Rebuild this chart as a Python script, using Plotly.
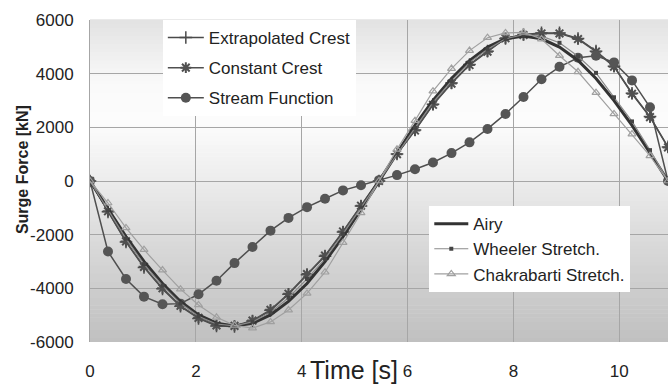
import plotly.graph_objects as go

# ---------------- data ----------------
time_s = [0.00, 0.34, 0.68, 1.02, 1.37, 1.71, 2.05, 2.39, 2.73, 3.07, 3.41,
          3.75, 4.10, 4.44, 4.78, 5.12, 5.46, 5.80, 6.14, 6.48, 6.83, 7.17,
          7.51, 7.85, 8.19, 8.53, 8.87, 9.22, 9.56, 9.90, 10.24, 10.58, 10.92]

airy = [0, -1050, -2070, -3000, -3820, -4490, -4990, -5300, -5400, -5300, -4990,
        -4490, -3820, -3000, -2070, -1050, 0, 1050, 2070, 3000, 3820, 4490,
        4990, 5300, 5400, 5300, 4990, 4490, 3820, 3000, 2070, 1050, 0]

wheeler = [0, -1090, -2150, -3100, -3900, -4560, -5040, -5330, -5400, -5250, -4900,
           -4350, -3650, -2900, -1970, -990, 0, 1030, 1980, 2930, 3730, 4420,
           4910, 5300, 5450, 5400, 5150, 4650, 4030, 3120, 2220, 1150, 0]

chakrabarti = [0, -820, -1750, -2560, -3320, -4030, -4620, -5080, -5380, -5480, -5250,
               -4810, -4190, -3400, -2300, -1190, 0, 1180, 2250, 3350, 4190, 4860,
               5340, 5520, 5540, 5290, 4670, 4070, 3290, 2500, 1750, 940, 0]

extrapolated = [0, -1150, -2270, -3220, -4020, -4670, -5120, -5400, -5420, -5220, -4820,
                -4220, -3490, -2800, -1900, -930, 0, 1010, 1900, 2860, 3650, 4340,
                4840, 5310, 5460, 5520, 5520, 5310, 4840, 4280, 3270, 2400, 1270, 0][:33]

constant = [0, -1130, -2250, -3200, -4000, -4650, -5100, -5380, -5400, -5200, -4800,
            -4200, -3470, -2780, -1880, -920, 0, 1000, 1880, 2840, 3630, 4320,
            4820, 5320, 5440, 5500, 5500, 5290, 4820, 4260, 3250, 2380, 1250, 0][:33]

stream = [0, -2630, -3650, -4310, -4590, -4570, -4220, -3715, -3060, -2460, -1850,
          -1375, -975, -660, -350, -160, 25, 220, 440, 690, 1040, 1440,
          1940, 2500, 3130, 3790, 4255, 4590, 4670, 4420, 3750, 2750, 0]

y_ticks = [-6000, -4000, -2000, 0, 2000, 4000, 6000]
x_ticks = [0, 2, 4, 6, 8, 10]

FONT = "Liberation Sans, Arial, sans-serif"
TXT = "#222222"

fig = go.Figure()

# background gradient (plot area)
stops = [(0.0, 192), (0.25, 212), (0.5, 236), (0.68, 252), (0.8, 250), (1.0, 226)]
N = 80
def shade(f):
    for (a, ca), (b, cb) in zip(stops[:-1], stops[1:]):
        if a <= f <= b:
            return ca + (cb - ca) * (f - a) / (b - a)
    return stops[-1][1]
for k in range(N):
    y0 = k / N
    y1 = (k + 1) / N
    c = int(round(shade((y0 + y1) / 2)))
    fig.add_shape(type="rect", xref="paper", yref="paper", x0=0, x1=1,
                  y0=y0, y1=y1 + 0.002, fillcolor=f"rgb({c},{c},{c})",
                  line=dict(width=0), layer="below")

# top legend traces
fig.add_trace(go.Scatter(x=time_s, y=extrapolated, name="Extrapolated Crest",
                         mode="lines+markers", legend="legend", legendgroup="e",
                         line=dict(color="#4a4a4a", width=1.5),
                         marker=dict(symbol="cross-thin", size=9,
                                     line=dict(color="#4a4a4a", width=1.5))))
fig.add_trace(go.Scatter(x=time_s, y=constant, name="Constant Crest",
                         mode="lines+markers", legend="legend", legendgroup="c",
                         line=dict(color="#505050", width=1.5),
                         marker=dict(symbol="asterisk", size=9,
                                     line=dict(color="#505050", width=2))))
fig.add_trace(go.Scatter(x=time_s, y=stream, name="Stream Function",
                         mode="lines+markers", legend="legend", legendgroup="s",
                         line=dict(color="#4f4f4f", width=1.5),
                         marker=dict(symbol="circle", size=10, color="#555555")))

# bottom legend traces
fig.add_trace(go.Scatter(x=time_s, y=airy, name="Airy", mode="lines",
                         legend="legend2",
                         line=dict(color="#333333", width=3)))
fig.add_trace(go.Scatter(x=time_s, y=wheeler, name="Wheeler Stretch.",
                         mode="lines+markers", legend="legend2",
                         line=dict(color="#8a8a8a", width=1.2),
                         marker=dict(symbol="square", size=4, color="#444444")))
fig.add_trace(go.Scatter(x=time_s, y=chakrabarti, name="Chakrabarti Stretch.",
                         mode="lines+markers", legend="legend2",
                         line=dict(color="#a0a0a0", width=1.2),
                         marker=dict(symbol="triangle-up-open", size=7,
                                     line=dict(color="#8f8f8f", width=1.2))))

fig.update_layout(
    width=668, height=387,
    margin=dict(l=90, r=0, t=20, b=45),
    paper_bgcolor="white", plot_bgcolor="white",
    font=dict(family=FONT, size=17, color=TXT),
    legend=dict(x=0.126, y=1.0, xanchor="left", yanchor="top",
                bgcolor="white", borderwidth=0, itemwidth=36,
                tracegroupgap=5, font=dict(size=17, color=TXT)),
    legend2=dict(x=0.587, y=0.422, xanchor="left", yanchor="top",
                 bgcolor="white", borderwidth=0, itemwidth=34,
                 font=dict(size=17, color=TXT)),
    xaxis=dict(range=[0, 10.92], tickvals=x_ticks, ticktext=[str(v) for v in x_ticks],
               showgrid=True, gridcolor="#a6a6a6", gridwidth=1,
               showline=False, zeroline=False, ticks="",
               ticklabelstandoff=17, tickfont=dict(size=17, color=TXT)),
    yaxis=dict(range=[-6000, 6000], tickvals=y_ticks, ticktext=[str(v) for v in y_ticks],
               showgrid=True, gridcolor="#a6a6a6", gridwidth=1,
               showline=True, linecolor="#a6a6a6", linewidth=1,
               zeroline=False, ticks="",
               ticklabelstandoff=12, tickfont=dict(size=17, color=TXT)),
    showlegend=True,
    annotations=[
        dict(text="Time [s]", xref="paper", yref="paper", x=0.457, y=-0.036,
             xanchor="center", yanchor="top", showarrow=False,
             font=dict(size=25, color=TXT, family=FONT)),
        dict(text="<b>Surge Force [kN]</b>", xref="paper", yref="paper",
             x=-0.1176, y=0.534, xanchor="center", yanchor="middle",
             textangle=-90, showarrow=False,
             font=dict(size=16, color=TXT, family=FONT)),
    ],
)

fig.write_html("out.html")
